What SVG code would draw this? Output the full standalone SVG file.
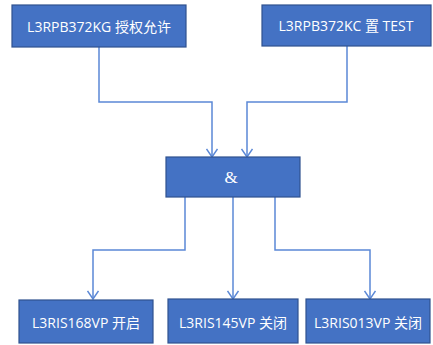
<svg xmlns="http://www.w3.org/2000/svg" width="433" height="345" viewBox="0 0 433 345">
  <defs>
    <marker id="arrow" viewBox="0 0 10 12" refX="9" refY="6" markerWidth="10" markerHeight="12" markerUnits="userSpaceOnUse" orient="auto">
      <path d="M1,0.5 L9,6 L1,11.5" fill="none" stroke="#5B88D6" stroke-width="1.5"/>
    </marker>
    <style>
      .box { fill: #4472C4; stroke: #2F528F; stroke-width: 1.2; }
      .label { fill: #FFFFFF; font-family: "Open Sans", "Noto Sans CJK SC", sans-serif; font-size: 14px; text-anchor: middle; dominant-baseline: central; }
      .amp { fill: #FFFFFF; font-family: "Liberation Serif", serif; font-size: 17px; text-anchor: middle; dominant-baseline: central; }
      .wire { fill: none; stroke: #5B88D6; stroke-width: 1.5; marker-end: url(#arrow); }
    </style>
  </defs>

  <g id="connectors">
    <path class="wire" d="M99,47 V102 H212 V157"/>
    <path class="wire" d="M347,46 V102 H247 V157"/>
    <path class="wire" d="M185,197 V250 H93 V299"/>
    <path class="wire" d="M233,197 V299"/>
    <path class="wire" d="M275,197 V250 H370 V299"/>
  </g>

  <g id="node-kg">
    <rect class="box" x="12" y="5" width="174" height="42"/>
    <text class="label" x="99" y="26">L3RPB372KG 授权允许</text>
  </g>
  <g id="node-kc">
    <rect class="box" x="262" y="5" width="169" height="41"/>
    <text class="label" x="346" y="25">L3RPB372KC 置 TEST</text>
  </g>
  <g id="node-and">
    <rect class="box" x="166" y="157" width="134" height="40"/>
    <text class="amp" x="231" y="177">&amp;</text>
  </g>
  <g id="node-168">
    <rect class="box" x="19" y="300" width="134" height="43"/>
    <text class="label" x="86" y="322">L3RIS168VP 开启</text>
  </g>
  <g id="node-145">
    <rect class="box" x="168" y="299" width="130" height="44"/>
    <text class="label" x="233" y="322">L3RIS145VP 关闭</text>
  </g>
  <g id="node-013">
    <rect class="box" x="306" y="299" width="124" height="44"/>
    <text class="label" x="368" y="322">L3RIS013VP 关闭</text>
  </g>
</svg>
